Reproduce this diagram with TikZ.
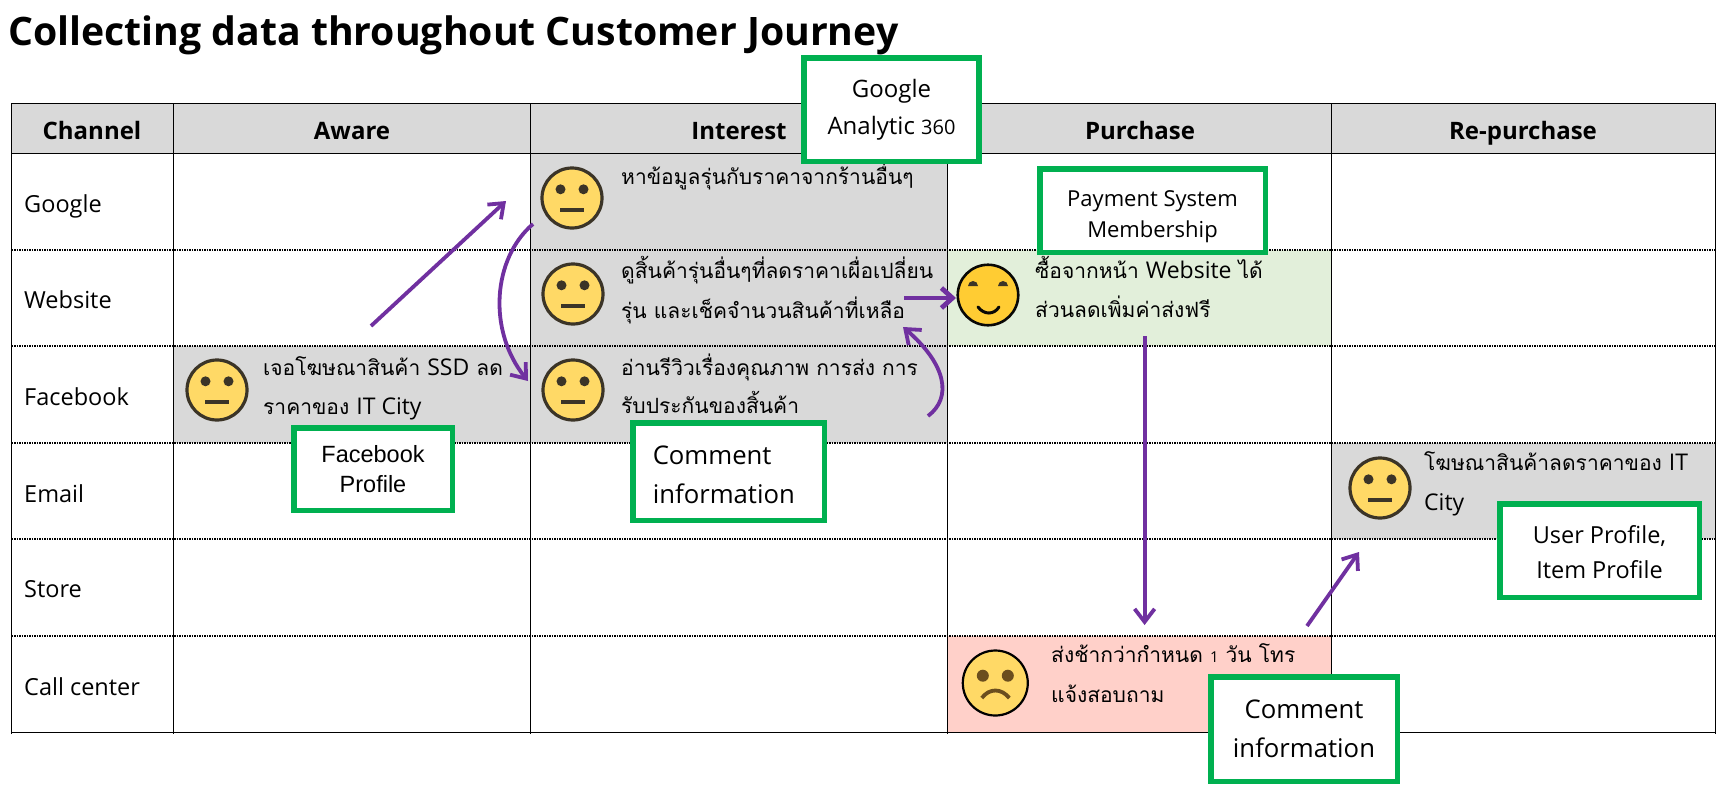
\documentclass[tikz,border=0pt]{standalone}
\usepackage{fontspec}
\usetikzlibrary{arrows.meta,calc}
\setmainfont{Open Sans}
\newfontfamily\thaif[Script=Thai]{Loma}
\newfontfamily\arialf{Liberation Sans}
\definecolor{hdrgray}{HTML}{D9D9D9}
\definecolor{boxgreen}{HTML}{00B050}
\definecolor{arrowpurple}{HTML}{7030A0}
\definecolor{cellgreen}{HTML}{E2EFDA}
\definecolor{cellred}{HTML}{FFD0C9}
\definecolor{facey}{HTML}{FFD966}
\definecolor{faceh}{HTML}{FFCC33}
\definecolor{faceline}{HTML}{3B3427}
\definecolor{sadbrown}{HTML}{6B4E1E}
\newcommand{\fz}[2]{\fontsize{#1}{#2}\selectfont}
\newcommand{\lat}[1]{{\rmfamily\fontsize{23}{30}\selectfont #1}}
\tikzset{
  x=1pt,y=-1pt,
  solidline/.style={draw=black,line width=0.9pt},
  outerline/.style={draw=black,line width=1.3pt},
  dotline/.style={draw=black,line width=1.1pt,dash pattern=on 1.6pt off 0.9pt},
  hdr/.style={font=\bfseries\fz{24}{28},inner sep=0,anchor=base},
  rowlab/.style={font=\fz{23.5}{28},inner sep=0,anchor=base west},
  celltext/.style={inner sep=0,anchor=north west,align=left},
  databox/.style={draw=boxgreen,fill=white,line width=5.5pt,inner sep=0,minimum width=#1},
  flow/.style={draw=arrowpurple,line width=3.8pt,-{Straight Barb[length=13pt,width=20pt]}},
  faceN/.style={circle,draw=faceline,fill=facey,line width=3.2pt,inner sep=0,minimum size=60pt},
}
\newcommand{\neutralface}[3]{%
  \node[faceN] (#1) at (#2,#3) {};
  \fill[faceline] ($(#1)+(-11.5,-8.7)$) circle[radius=5];
  \fill[faceline] ($(#1)+(11.5,-8.7)$) circle[radius=5];
  \draw[faceline,line width=3.6pt] ($(#1)+(-11.8,12)$) -- ($(#1)+(11.8,12)$);
}
\newcommand{\rowtext}[5]{% name, x, baseline, spacing, text
  \node[celltext,font=\thaif\fz{21}{#4}] (#1) at (#2,{#3-30}) {\rule{0pt}{30pt}#5};
}
\begin{document}
\begin{tikzpicture}
\useasboundingbox (0,0) rectangle (1730,793);
\fill[white] (0,0) rectangle (1730,793);

% title
\node[inner sep=0,anchor=base west,font=\bfseries\fz{39.2}{44}] (title) at (8,45) {Collecting data throughout Customer Journey};

% fills
\fill[hdrgray] (11.6,103.5) rectangle (1715.5,153.5);
\fill[hdrgray] (530,153.5) rectangle (947,346);
\fill[hdrgray] (530,346) rectangle (947,443);
\fill[hdrgray] (173,346) rectangle (530,443);
\fill[cellgreen] (947,250) rectangle (1331,346);
\fill[hdrgray] (1331,443) rectangle (1715.5,539);
\fill[cellred] (947,636) rectangle (1331,732);

% grid
\foreach \yy in {250,346,443,539,636}
  \draw[dotline] (11.6,\yy) -- (1715.5,\yy);
\foreach \xx in {173,530,947,1331}
  \draw[solidline] (\xx,103.5) -- (\xx,734);
\draw[outerline] (11.6,734) -- (11.6,103.5) -- (1715.5,103.5) -- (1715.5,734);
\draw[outerline] (11.6,153.5) -- (1715.5,153.5);
\draw[outerline] (11.6,732.3) -- (1715.5,732.3);

% headers
\node[hdr] (hChannel) at (92,139) {Channel};
\node[hdr] (hAware) at (352,139) {Aware};
\node[hdr] (hInterest) at (739,139) {Interest};
\node[hdr] (hPurchase) at (1140,139) {Purchase};
\node[hdr] (hRepurchase) at (1523,139) {Re-purchase};

% rows
\node[rowlab] (rGoogle) at (24,212) {Google};
\node[rowlab] (rWebsite) at (24,308) {Website};
\node[rowlab] (rFacebook) at (24,405) {Facebook};
\node[rowlab] (rEmail) at (24,502) {Email};
\node[rowlab] (rStore) at (24,597) {Store};
\node[rowlab] (rCall) at (24,695) {Call center};

% cell text
\rowtext{tAwareFb}{263}{375}{39}{เจอโฆษณาสินค้า \lat{SSD} ลด\\ราคาของ \lat{IT City}}
\rowtext{tIntGoogle}{621}{184}{39}{หาข้อมูลรุ่นกับราคาจากร้านอื่นๆ}
\rowtext{tIntWeb}{621}{278}{40}{ดูสิ้นค้ารุ่นอื่นๆที่ลดราคาเผื่อเปลี่ยน\\รุ่น และเช็คจำนวนสินค้าที่เหลือ}
\rowtext{tIntFb}{621}{375}{38}{อ่านรีวิวเรื่องคุณภาพ การส่ง การ\\รับประกันของสิ้นค้า}
\rowtext{tPurWeb}{1035}{278}{39}{ซื้อจากหน้า \lat{Website} ได้\\ส่วนลดเพิ่มค่าส่งฟรี}
\rowtext{tPurCall}{1051}{662}{40}{ส่งช้ากว่ากำหนด {\rmfamily\fz{15}{40}1} วัน โทร\\แจ้งสอบถาม}
\rowtext{tRepEmail}{1424}{470}{40}{โฆษณาสินค้าลดราคาของ \lat{IT}\\\lat{City}}

% arrows
\coordinate (a1s) at (371,326);
\coordinate (a1e) at (506,201);
\coordinate (a2s) at (533,224);
\coordinate (a2c1) at (493,258);
\coordinate (a2c2) at (487,330);
\coordinate (a2e) at (528,381);
\coordinate (a3s) at (904,298);
\coordinate (a3e) at (956,298);
\coordinate (a4s) at (928,416);
\coordinate (a4c1) at (952,398);
\coordinate (a4c2) at (947,365);
\coordinate (a4e) at (903,327);
\coordinate (a5s) at (1144.6,336);
\coordinate (a5e) at (1144.6,625);
\coordinate (a6s) at (1307,626);
\coordinate (a6e) at (1359,552);
\draw[flow] (a1s) -- (a1e);
\draw[flow] (a2s) .. controls (a2c1) and (a2c2) .. (a2e);
\draw[flow,line width=4.8pt,-{Straight Barb[length=11pt,width=20pt]}] (a3s) -- (a3e);
\draw[flow] (a4s) .. controls (a4c1) and (a4c2) .. (a4e);
\draw[flow] (a5s) -- (a5e);
\draw[flow] (a6s) -- (a6e);

% faces
\neutralface{fAware}{217}{390}
\neutralface{fIntG}{572}{198}
\neutralface{fIntW}{573}{294}
\neutralface{fIntF}{573}{390}
\neutralface{fRep}{1380}{488}

\node[circle,draw=black!85!faceline,fill=faceh,line width=2.6pt,inner sep=0,minimum size=60.5pt] (fHappy) at (988,295) {};
\fill[faceline] ($(fHappy)+(-20,-9)$) arc[start angle=180,end angle=360,radius=5] -- cycle;
\fill[faceline] ($(fHappy)+(10,-9)$) arc[start angle=180,end angle=360,radius=5] -- cycle;
\draw[black!85!faceline,line width=3pt,line cap=round] ($(fHappy)+(-10,12)$) .. controls ($(fHappy)+(-4,20)$) and ($(fHappy)+(6,20)$) .. ($(fHappy)+(11,12)$);

\node[circle,draw=black,fill=facey,line width=2.2pt,inner sep=0,minimum size=65pt] (fSad) at (995.3,683) {};
\fill[sadbrown] ($(fSad)+(-12.5,-7.3)$) circle[radius=6];
\fill[sadbrown] ($(fSad)+(12.5,-7.3)$) circle[radius=6];
\draw[sadbrown,line width=3.8pt] ($(fSad)+(-13.5,15)$) .. controls ($(fSad)+(-6,5)$) and ($(fSad)+(6,5)$) .. ($(fSad)+(14,15)$);

% data boxes
\node[databox=175pt,minimum height=103.5pt,align=center,font=\fz{24}{37}] (bGA) at (891.5,109.5) {Google\\Analytic {\fz{20}{37}360}};
\node[databox=225.5pt,minimum height=83.5pt,align=center,font=\fz{22}{31}] (bPay) at (1152.5,210.5) {\rule{0pt}{28pt}Payment System\\Membership};
\node[databox=158.5pt,minimum height=82.5pt,align=center,font=\arialf\fz{23.5}{30}] (bFb) at (373,469) {Facebook\\Profile};
\node[databox=191.5pt,minimum height=97.5pt,text width=191.5pt,align=left,font=\fz{25.7}{39}] (bCom) at (728.5,471.5) {\rule{0pt}{25pt}\hspace*{20pt}Comment\\\hspace*{20pt}information};
\node[databox=199.5pt,minimum height=93.5pt,align=center,font=\fz{23.5}{35}] (bUser) at (1599.5,550.5) {\rule{0pt}{21pt}User Profile,\\Item Profile};
\node[databox=186.5pt,minimum height=104.5pt,align=center,font=\fz{25.7}{39}] (bCom2) at (1304,729) {\rule{0pt}{19pt}Comment\\information};
\end{tikzpicture}
\end{document}
